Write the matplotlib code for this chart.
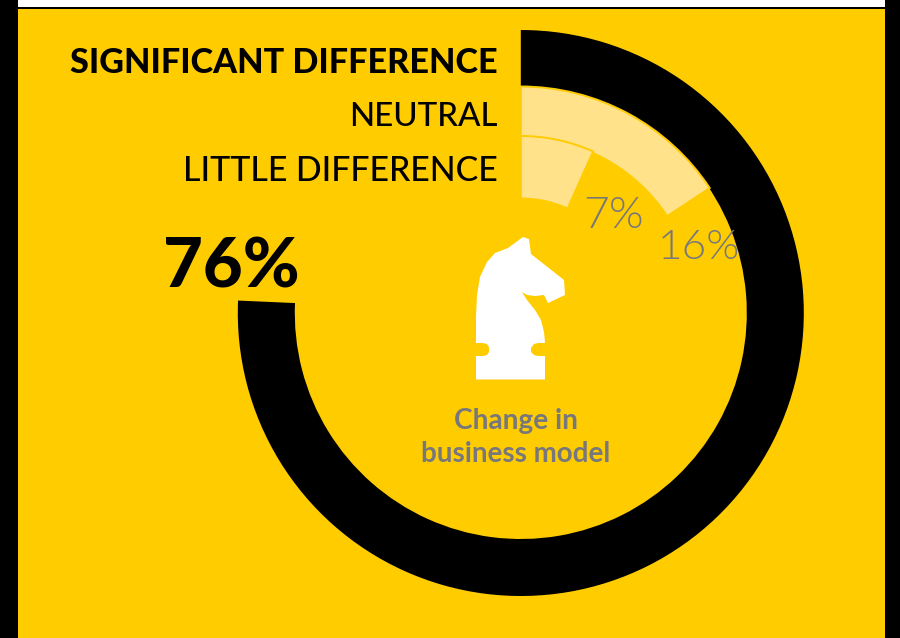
#!/usr/bin/env python3
import matplotlib
matplotlib.use('Agg')
import matplotlib.pyplot as plt
from matplotlib.patches import Wedge, Rectangle, PathPatch
from matplotlib.path import Path

# Values
share_labels = ['SIGNIFICANT DIFFERENCE', 'NEUTRAL', 'LITTLE DIFFERENCE']
shares = [75.7, 15.7, 6.7]
share_texts = ['76%', '16%', '7%']
caption_lines = ['Change in', 'business model']

YELLOW = '#ffcc00'
PALE = '#ffe28a'
GREY = '#77777c'

CX, CY = 520.8, 313

fig = plt.figure(figsize=(9, 6.38), dpi=100)
ax = fig.add_axes([0, 0, 1, 1])
ax.set_xlim(0, 900)
ax.set_ylim(638, 0)
ax.axis('off')

# Frame
ax.add_patch(Rectangle((0, 0), 900, 638, color='black', lw=0))
ax.add_patch(Rectangle((18, 0), 867, 7, color='white', lw=0))
ax.add_patch(Rectangle((18, 9), 867, 629, color=YELLOW, lw=0))

# Rings, clockwise from 12 o'clock (y axis is flipped, so angles run clockwise)
def ring(value, r_outer, r_inner, color, **kw):
    start = -90
    end = start + value / 100 * 360
    ax.add_patch(Wedge((CX, CY), r_outer, start, end, width=r_outer - r_inner,
                       facecolor=color, **kw))

ring(shares[0], 283, 226, 'black', lw=0)
ring(shares[1], 226.5, 175.5, PALE, edgecolor=YELLOW, lw=1.4)
ring(shares[2], 177, 114.5, PALE, edgecolor=YELLOW, lw=1.4)

# Knight icon
knight = [(476, 379.5), (476, 356), (483, 356), (487, 355), (489, 352), (489, 347),
          (487, 344), (483, 343), (476, 343), (476, 317), (477, 295), (480, 277),
          (487, 262), (495, 253), (508, 248), (523, 237), (529, 239), (531, 254),
          (564, 280), (565, 295), (548, 303), (544, 295), (535, 296), (527, 295),
          (522, 292), (527, 300), (535, 310), (541, 320), (544, 332), (545, 343),
          (538, 343), (534, 344), (531, 348), (531, 352), (534, 355), (538, 356),
          (545, 356), (545, 379.5), (476, 379.5)]
codes = [Path.MOVETO] + [Path.LINETO] * (len(knight) - 2) + [Path.CLOSEPOLY]
ax.add_patch(PathPatch(Path(knight, codes), facecolor='white', lw=0))

# Legend labels
ax.text(498, 73, share_labels[0], ha='right', va='baseline', fontsize=24.6,
        family='Lato', weight='black', color='black')
ax.text(498, 126, share_labels[1], ha='right', va='baseline', fontsize=23.8,
        family='Lato', weight=500, color='black')
ax.text(498, 181, share_labels[2], ha='right', va='baseline', fontsize=24.4,
        family='Lato', weight=500, color='black')

# Percentages
ax.text(231, 287, share_texts[0], ha='center', va='baseline', fontsize=49.5,
        family='Lato', weight='black', color='black')
ax.text(699, 259, share_texts[1], ha='center', va='baseline', fontsize=30.5,
        family='Lato', weight=300, color=GREY)
ax.text(614, 228, share_texts[2], ha='center', va='baseline', fontsize=32,
        family='Lato', weight=300, color=GREY)

ax.text(516, 429, caption_lines[0], ha='center', va='baseline', fontsize=20.2,
        family='Lato', weight='bold', color=GREY)
ax.text(516, 462, caption_lines[1], ha='center', va='baseline', fontsize=20,
        family='Lato', weight='bold', color=GREY)

fig.savefig('out.png', dpi=100)
